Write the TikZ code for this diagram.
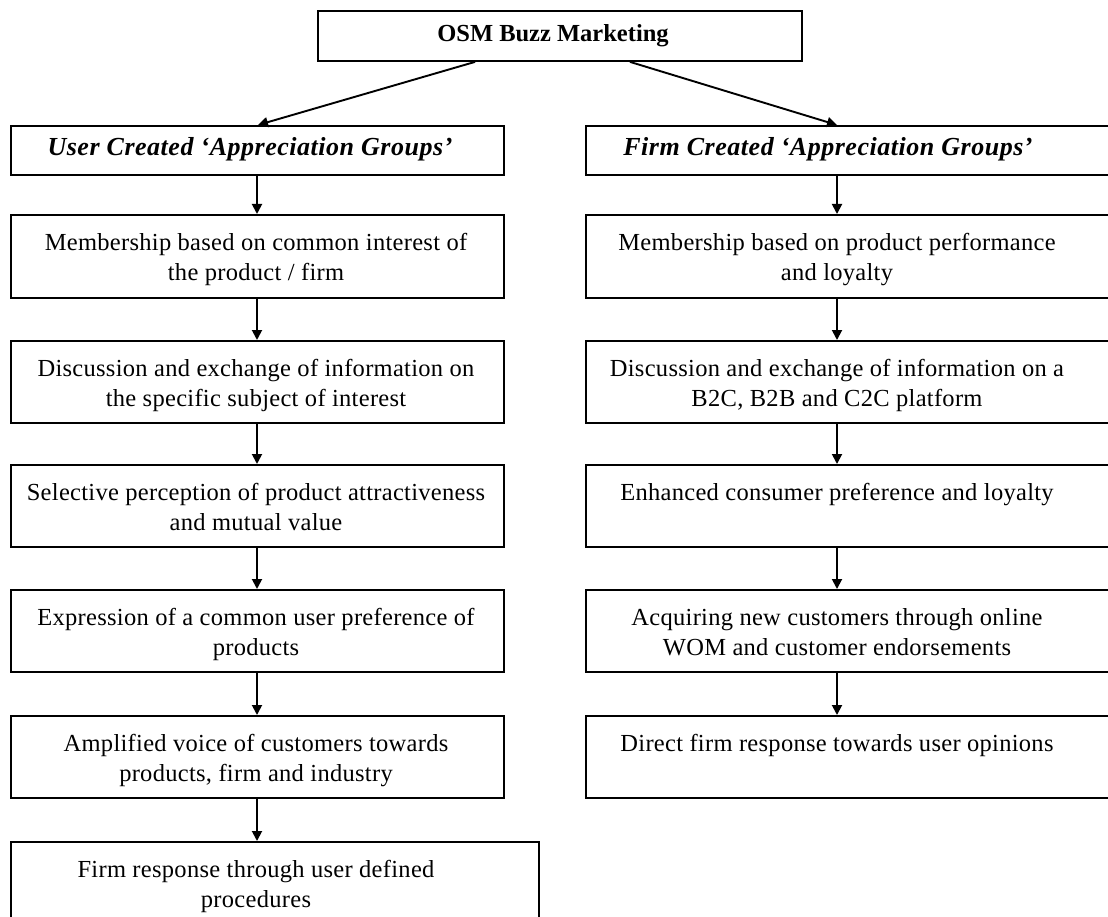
\documentclass[tikz,border=0pt]{standalone}
\usepackage{fontspec}
\setmainfont{Liberation Serif}
\usetikzlibrary{arrows.meta}
\begin{document}
\begin{tikzpicture}[x=1pt,y=-1pt,
  box/.style={draw, line width=1.9pt, rectangle, anchor=north west, inner sep=0pt},
  txt/.style={anchor=north, inner sep=0pt, align=center,
              font=\fontsize{24.5}{30}\selectfont\addfontfeature{LetterSpace=1.2},
              execute at begin node={\rule{0pt}{17pt}}},
  ttl/.style={inner sep=0pt, font=\fontsize{26}{30}\selectfont\bfseries\itshape\addfontfeature{LetterSpace=2}},
  arr/.style={line width=1.9pt, -{Triangle[length=10pt,width=10pt]}}]
\useasboundingbox (0,0) rectangle (1108,917);
% top
\node[box, minimum width=484pt, minimum height=50pt] (top) at (317,10) {};
\node[inner sep=0pt, font=\fontsize{24.5}{30}\selectfont\bfseries] (toptxt) at (553,36) {OSM Buzz Marketing};
% left column boxes
\node[box, minimum width=493pt, minimum height=49pt] (l0) at (10,125) {};
\node[box, minimum width=493pt, minimum height=83pt] (l1) at (10,214) {};
\node[box, minimum width=493pt, minimum height=82pt] (l2) at (10,340) {};
\node[box, minimum width=493pt, minimum height=82pt] (l3) at (10,464) {};
\node[box, minimum width=493pt, minimum height=82pt] (l4) at (10,589) {};
\node[box, minimum width=493pt, minimum height=82pt] (l5) at (10,715) {};
\node[box, minimum width=528pt, minimum height=100pt] (l6) at (10,841) {};
% right column boxes
\node[box, minimum width=540pt, minimum height=49pt] (r0) at (585,125) {};
\node[box, minimum width=540pt, minimum height=83pt] (r1) at (585,214) {};
\node[box, minimum width=540pt, minimum height=82pt] (r2) at (585,340) {};
\node[box, minimum width=540pt, minimum height=82pt] (r3) at (585,464) {};
\node[box, minimum width=540pt, minimum height=82pt] (r4) at (585,589) {};
\node[box, minimum width=540pt, minimum height=82pt] (r5) at (585,715) {};
% texts
\node[ttl] (l0t) at (250,149) {User Created ‘Appreciation Groups’};
\node[ttl] (r0t) at (828,149) {Firm Created ‘Appreciation Groups’};
\node[txt] (l1t) at (256,233) {Membership based on common interest of\\the product / firm};
\node[txt] (l2t) at (256,359) {Discussion and exchange of information on\\the specific subject of interest};
\node[txt] (l3t) at (256,483) {Selective perception of product attractiveness\\and mutual value};
\node[txt] (l4t) at (256,608) {Expression of a common user preference of\\products};
\node[txt] (l5t) at (256,734) {Amplified voice of customers towards\\products, firm and industry};
\node[txt] (l6t) at (256,860) {Firm response through user defined\\procedures};
\node[txt] (r1t) at (837,233) {Membership based on product performance\\and loyalty};
\node[txt] (r2t) at (837,359) {Discussion and exchange of information on a\\B2C, B2B and C2C platform};
\node[txt] (r3t) at (837,483) {Enhanced consumer preference and loyalty};
\node[txt] (r4t) at (837,608) {Acquiring new customers through online\\WOM and customer endorsements};
\node[txt] (r5t) at (837,734) {Direct firm response towards user opinions};
% connectors
\draw[arr] (top.south -| 475,0) -- (l0.north -| 258,0);
\draw[arr] (top.south -| 630,0) -- (r0.north -| 837,0);
\foreach \a/\b in {l0/l1,l1/l2,l2/l3,l3/l4,l4/l5,l5/l6}
  \draw[arr] (\a.south -| 257,0) -- (\b.north -| 257,0);
\foreach \a/\b in {r0/r1,r1/r2,r2/r3,r3/r4,r4/r5}
  \draw[arr] (\a.south -| 837,0) -- (\b.north -| 837,0);
\end{tikzpicture}
\end{document}
